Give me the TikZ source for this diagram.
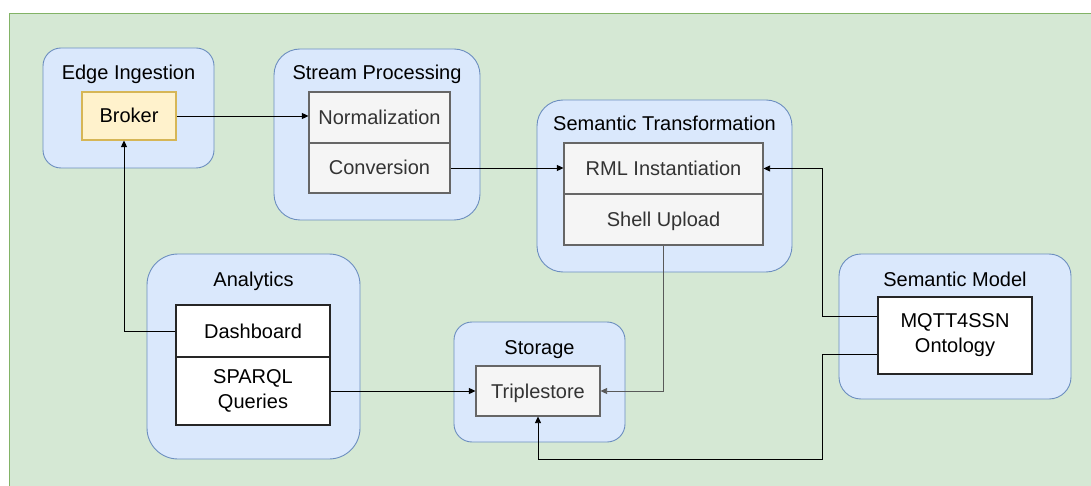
\documentclass[tikz,border=0pt]{standalone}
\usepackage{fontspec}
\setmainfont{Liberation Sans}
\usetikzlibrary{arrows.meta,calc}

\definecolor{bggreen}{HTML}{D5E8D4}
\definecolor{bgline}{HTML}{82B366}
\definecolor{grpfill}{HTML}{DAE8FC}
\definecolor{grpline}{HTML}{6C8EBF}
\definecolor{brkfill}{HTML}{FFF2CC}
\definecolor{brkline}{HTML}{D6B656}
\definecolor{procfill}{HTML}{F5F5F5}
\definecolor{procline}{HTML}{666666}
\definecolor{proctext}{HTML}{333333}

\tikzset{
  group/.style={draw=grpline, fill=grpfill, line width=0.9pt},
  grouptitle/.style={anchor=base, inner sep=0pt, font=\fontsize{20}{24}\selectfont},
  cell/.style={draw, line width=1.1pt, inner sep=0pt, align=center,
    font=\fontsize{20}{25}\selectfont},
  oneline/.style={text height=14pt, text depth=0pt},
  brokercell/.style={cell, oneline, draw=brkline, fill=brkfill},
  proccell/.style={cell, oneline, draw=procline, fill=procfill, text=proctext},
  plaincell/.style={cell, draw=black!85, fill=white},
  link/.style={draw=black, line width=0.8pt, -{Triangle[length=6.5pt,width=6pt]}},
}

\begin{document}
\begin{tikzpicture}[x=1pt,y=-1pt]
  \useasboundingbox (0,0) rectangle (1091,486);

  % outer canvas
  \fill[bggreen] (9,14) rectangle (1091,486);
  \draw[bgline, line width=1pt] (9,486) -- (9,14) -- (1091,14);

  % stage groups
  \draw[group, rounded corners=18pt] (43,48) rectangle (214,168);
  \draw[group, rounded corners=26pt] (274,49) rectangle (480,220);
  \draw[group, rounded corners=26pt] (537,100) rectangle (792,272);
  \draw[group, rounded corners=22pt] (839,254) rectangle (1071,399);
  \draw[group, rounded corners=31pt] (147,254) rectangle (360,459);
  \draw[group, rounded corners=18pt] (454,322) rectangle (625,442);

  % group titles
  \node[grouptitle] (tEdge)    at (128.5,80)  {Edge Ingestion};
  \node[grouptitle] (tStream)  at (377,80)    {Stream Processing};
  \node[grouptitle] (tSem)     at (664.5,131) {Semantic Transformation};
  \node[grouptitle] (tModel)   at (955,286)   {Semantic Model};
  \node[grouptitle] (tAna)     at (253.5,286) {Analytics};
  \node[grouptitle] (tStore)   at (539.5,354) {Storage};

  % component cells
  \node[brokercell, minimum width=94pt, minimum height=48pt] (broker) at (129,116) {Broker};

  \node[proccell, minimum width=141pt, minimum height=51pt] (norm) at (379.5,117.5) {Normalization};
  \node[proccell, minimum width=141pt, minimum height=50pt] (conv) at (379.5,168) {Conversion};

  \node[proccell, minimum width=199pt, minimum height=51pt] (rml)   at (663.5,168.5) {RML Instantiation};
  \node[proccell, minimum width=199pt, minimum height=51pt] (shell) at (663.5,219.5) {Shell Upload};

  \node[plaincell, minimum width=154pt, minimum height=77pt] (onto) at (955,335.5) {MQTT4SSN\\Ontology};

  \node[plaincell, oneline, minimum width=154pt, minimum height=52pt] (dash) at (253,331) {Dashboard};
  \node[plaincell, minimum width=154pt, minimum height=68pt] (sparql) at (253,391) {SPARQL\\Queries};

  \node[proccell, minimum width=124pt, minimum height=50pt] (triple) at (538,391) {Triplestore};

  % routing helpers
  \coordinate (busx) at (822,0);
  \coordinate (lowy) at (0,459);

  % data flow
  \draw[link] (broker.east) -- (broker.east -| norm.west);
  \draw[link] (conv.east) -- (conv.east -| rml.west);
  \draw[link] ([yshift=19.5pt]onto.west) -| (busx |- rml.east) -- (rml.east);
  \draw[link] ([yshift=-18.5pt]onto.west) -| (busx |- lowy) -| (triple.south);
  \draw[link, draw=black!65] (shell.south) |- (triple.east);
  \draw[link] (sparql.east) -- (triple.west);
  \draw[link] (dash.west) -| ([xshift=-5pt]broker.south);
\end{tikzpicture}
\end{document}
